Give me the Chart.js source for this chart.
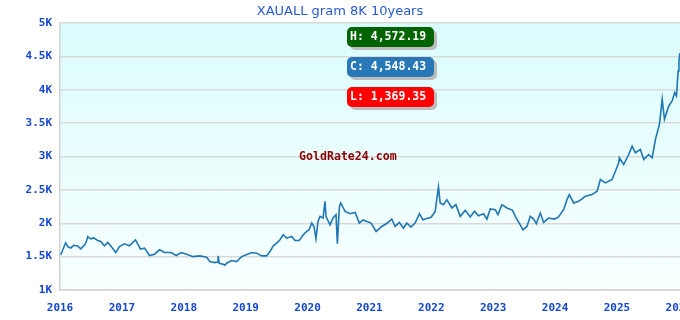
<!DOCTYPE html>
<html lang="en">
<head>
<meta charset="UTF-8" />
<title>XAUALL gram 8K 10years</title>
<style>
  body { margin: 0; background: #fff; }
  #wrap { width: 680px; height: 320px; }
</style>
</head>
<body>
<div id="wrap"><canvas id="myChart" width="680" height="320"></canvas></div>
<script src="https://cdn.jsdelivr.net/npm/chart.js"></script>
<script>
// decimal year of each reading
const years = [
  2016.011, 2016.044, 2016.092, 2016.125, 2016.173, 2016.222, 2016.286, 2016.335, 2016.400, 2016.432,
  2016.448, 2016.497, 2016.545, 2016.610, 2016.659, 2016.718, 2016.772, 2016.837, 2016.901, 2016.961,
  2017.042, 2017.123, 2017.220, 2017.301, 2017.366, 2017.447, 2017.528, 2017.608, 2017.689, 2017.796,
  2017.877, 2017.958, 2018.045, 2018.152, 2018.261, 2018.369, 2018.422, 2018.503, 2018.552, 2018.557,
  2018.573, 2018.638, 2018.665, 2018.693, 2018.773, 2018.854, 2018.935, 2019.042, 2019.097, 2019.178,
  2019.259, 2019.340, 2019.393, 2019.447, 2019.502, 2019.555, 2019.608, 2019.663, 2019.744, 2019.798,
  2019.867, 2019.932, 2019.987, 2020.024, 2020.068, 2020.105, 2020.137, 2020.170, 2020.202, 2020.251,
  2020.283, 2020.299, 2020.364, 2020.412, 2020.461, 2020.482, 2020.515, 2020.537, 2020.607, 2020.688,
  2020.769, 2020.838, 2020.898, 2020.958, 2021.028, 2021.109, 2021.201, 2021.291, 2021.362, 2021.416,
  2021.485, 2021.550, 2021.605, 2021.670, 2021.739, 2021.809, 2021.864, 2021.955, 2021.998, 2022.063,
  2022.117, 2022.144, 2022.197, 2022.252, 2022.333, 2022.398, 2022.468, 2022.549, 2022.630, 2022.699,
  2022.764, 2022.845, 2022.900, 2022.953, 2023.034, 2023.078, 2023.142, 2023.223, 2023.314, 2023.358,
  2023.422, 2023.482, 2023.547, 2023.600, 2023.654, 2023.698, 2023.762, 2023.816, 2023.896, 2023.994,
  2024.053, 2024.139, 2024.194, 2024.231, 2024.301, 2024.382, 2024.490, 2024.599, 2024.680, 2024.733,
  2024.814, 2024.922, 2024.976, 2025.029, 2025.040, 2025.110, 2025.191, 2025.246, 2025.299, 2025.380,
  2025.434, 2025.515, 2025.570, 2025.623, 2025.688, 2025.732, 2025.769, 2025.838, 2025.893, 2025.935,
  2025.963, 2025.990, 2026.003, 2026.016
];
// price per gram, 8K
const prices = [
  1526, 1600, 1707, 1650, 1630, 1670, 1660, 1617, 1677, 1740,
  1800, 1767, 1780, 1741, 1727, 1662, 1712, 1640, 1561, 1651,
  1692, 1662, 1752, 1612, 1627, 1516, 1537, 1602, 1561, 1561,
  1516, 1561, 1537, 1500, 1511, 1492, 1426, 1411, 1420, 1511,
  1401, 1386, 1370, 1401, 1441, 1426, 1500, 1541, 1561, 1552,
  1511, 1511, 1576, 1662, 1702, 1752, 1827, 1777, 1802, 1741,
  1741, 1827, 1877, 1900, 2003, 1950, 1767, 2030, 2103, 2080,
  2328, 2100, 1977, 2080, 2128, 1692, 2244, 2304, 2178, 2143,
  2163, 2003, 2050, 2027, 2003, 1877, 1952, 2003, 2063, 1952,
  2012, 1928, 2003, 1943, 2003, 2143, 2053, 2078, 2090, 2178,
  2545, 2304, 2278, 2354, 2229, 2278, 2103, 2193, 2093, 2178,
  2113, 2143, 2063, 2214, 2203, 2128, 2278, 2229, 2193, 2103,
  2003, 1902, 1952, 2103, 2063, 1993, 2153, 2012, 2078, 2063,
  2090, 2203, 2354, 2429, 2304, 2328, 2403, 2429, 2479, 2655,
  2604, 2655, 2779, 2905, 2981, 2880, 3030, 3155, 3056, 3106,
  2956, 3030, 2981, 3256, 3482, 3858, 3557, 3757, 3832, 3958,
  3908, 4283, 4420, 4548
];
const yearTicks = [2016, 2017, 2018, 2019, 2020, 2021, 2022, 2023, 2024, 2025, 2026];
const badgeLabels = ['H: 4,572.19', 'C: 4,548.43', 'L: 1,369.35'];
const badgeColors = ['#006400', '#2878b8', '#ff0000'];
const watermark = 'GoldRate24.com';

const tickFont = { family: 'DejaVu Sans Mono', size: 11, weight: 'bold' };
const tickColor = '#1446d2';

const bgPlugin = {
  id: 'areaBg',
  beforeDraw(chart) {
    const { ctx, chartArea: a } = chart;
    const g = ctx.createLinearGradient(0, a.top, 0, a.bottom);
    g.addColorStop(0, '#dafcfc');
    g.addColorStop(1, '#f9ffff');
    ctx.save();
    ctx.fillStyle = g;
    ctx.fillRect(a.left, a.top, a.right - a.left, a.bottom - a.top);
    ctx.restore();
  }
};

const badgePlugin = {
  id: 'badges',
  afterDraw(chart) {
    const ctx = chart.ctx;
    ctx.save();
    // watermark
    ctx.font = 'bold 11.6px "DejaVu Sans Mono"';
    ctx.fillStyle = '#8b0000';
    ctx.textBaseline = 'middle';
    ctx.fillText(watermark, 299, 157);
    // H / C / L boxes
    ctx.font = 'bold 11.5px "DejaVu Sans Mono"';
    badgeLabels.forEach((t, i) => {
      const y = 27 + i * 30;
      ctx.fillStyle = '#bcbcbc';
      ctx.beginPath();
      ctx.roundRect(350, y + 3, 87, 20, 5);
      ctx.fill();
      ctx.fillStyle = badgeColors[i];
      ctx.beginPath();
      ctx.roundRect(347, y, 87, 20, 5);
      ctx.fill();
      ctx.fillStyle = '#ffffff';
      ctx.fillText(t, 350, y + 10.5);
    });
    ctx.restore();
  }
};

new Chart(document.getElementById('myChart'), {
  type: 'line',
  data: {
    datasets: [{
      data: years.map((x, i) => ({ x: x, y: prices[i] })),
      borderColor: '#1f77b4',
      borderWidth: 1.6,
      pointRadius: 0,
      tension: 0,
      fill: false
    }]
  },
  options: {
    responsive: false,
    devicePixelRatio: 1,
    animation: false,
    layout: { padding: { left: 0, right: 0, top: 0, bottom: 0 } },
    plugins: {
      legend: { display: false },
      tooltip: { enabled: false },
      title: {
        display: true,
        text: 'XAUALL gram 8K 10years',
        color: '#2a5ad0',
        font: { family: 'DejaVu Sans', size: 13, weight: 'normal', lineHeight: 1.2 },
        padding: { top: 4, bottom: 3.4 }
      }
    },
    scales: {
      x: {
        type: 'linear',
        min: 2016,
        max: 2026.02,
        grid: { display: false, drawTicks: false },
        border: { display: true, color: '#d2d2d2', width: 1.5 },
        afterBuildTicks(scale) {
          scale.ticks = yearTicks.map(v => ({ value: v }));
        },
        ticks: {
          padding: 12,
          color: tickColor,
          font: tickFont,
          maxRotation: 0,
          autoSkip: false,
          callback: v => String(v)
        },
        afterFit(scale) {
          scale.height = 30;
          scale.paddingLeft = 0;
          scale.paddingRight = 0;
        }
      },
      y: {
        min: 1000,
        max: 5000,
        grid: { color: '#d9d9d9', lineWidth: 1.5, drawTicks: false },
        border: { display: true, color: '#d2d2d2', width: 1.5 },
        ticks: {
          stepSize: 500,
          padding: 8,
          color: tickColor,
          font: tickFont,
          callback: v => (v / 1000) + 'K'
        },
        afterFit(scale) {
          scale.width = 60;
          scale.paddingTop = 0;
          scale.paddingBottom = 0;
        }
      }
    }
  },
  plugins: [bgPlugin, badgePlugin]
});
</script>
</body>
</html>
